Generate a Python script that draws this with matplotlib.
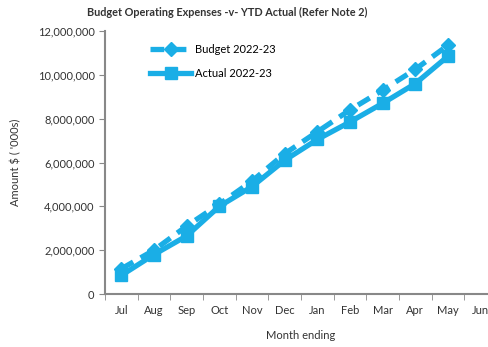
import matplotlib
matplotlib.use("Agg")
from matplotlib import pyplot as plt
from matplotlib.ticker import FuncFormatter

months = ['Jul', 'Aug', 'Sep', 'Oct', 'Nov', 'Dec', 'Jan', 'Feb', 'Mar', 'Apr', 'May', 'Jun']
budget = [1150000, 2000000, 3100000, 4100000, 5150000, 6400000, 7400000, 8400000, 9300000, 10250000, 11350000]
actual = [850000, 1800000, 2650000, 4000000, 4900000, 6100000, 7050000, 7850000, 8700000, 9600000, 10850000]

BLUE = '#1aaee6'
plt.rcParams['font.family'] = ['Lato', 'DejaVu Sans']

fig = plt.figure(figsize=(4.89, 3.47), dpi=100)
ax = fig.add_axes([0.2147, 0.1527, 0.8016, 0.758])

x = range(len(budget))
ax.plot(x, budget, color=BLUE, lw=3.8, ls=(0, (2.6, 1.6)), marker='D', ms=7,
        label='Budget 2022-23')
ax.plot(x, actual, color=BLUE, lw=3.8, marker='s', ms=8, label='Actual 2022-23')

ax.set_xlim(-0.5, 11.5)
ax.set_ylim(0, 12000000)
ax.set_yticks(range(0, 12000001, 2000000))
ax.yaxis.set_major_formatter(FuncFormatter(lambda v, p: f'{int(v):,}'))
ax.set_xticks(range(12))
ax.set_xticklabels(months)
ax.set_xticks([i - 0.5 for i in range(13)], minor=True)
ax.tick_params(axis='x', which='major', length=0, pad=8, labelsize=8, colors='#333333')
ax.tick_params(axis='x', which='minor', length=4, color='#888888')
ax.tick_params(axis='y', length=4, color='#888888', labelsize=8, colors='#333333')
for s in ['top', 'right']:
    ax.spines[s].set_visible(False)
for s in ['left', 'bottom']:
    ax.spines[s].set_color('#888888')
    ax.spines[s].set_linewidth(1.5)

ax.set_xlabel('Month ending', fontsize=8, color='#333333', labelpad=10)
ax.set_ylabel("Amount $ ( '000s)", fontsize=8, color='#333333', labelpad=12)
fig.text(0.464, 0.965, 'Budget Operating Expenses -v- YTD Actual (Refer Note 2)',
         ha='center', va='center', fontsize=7.8, fontweight='bold', color='#333333')

ax.legend(loc='upper left', bbox_to_anchor=(0.09, 0.99), frameon=False, fontsize=8,
          handlelength=3.7, handletextpad=0.3, labelspacing=1.2)

fig.savefig('out.png', dpi=100)
